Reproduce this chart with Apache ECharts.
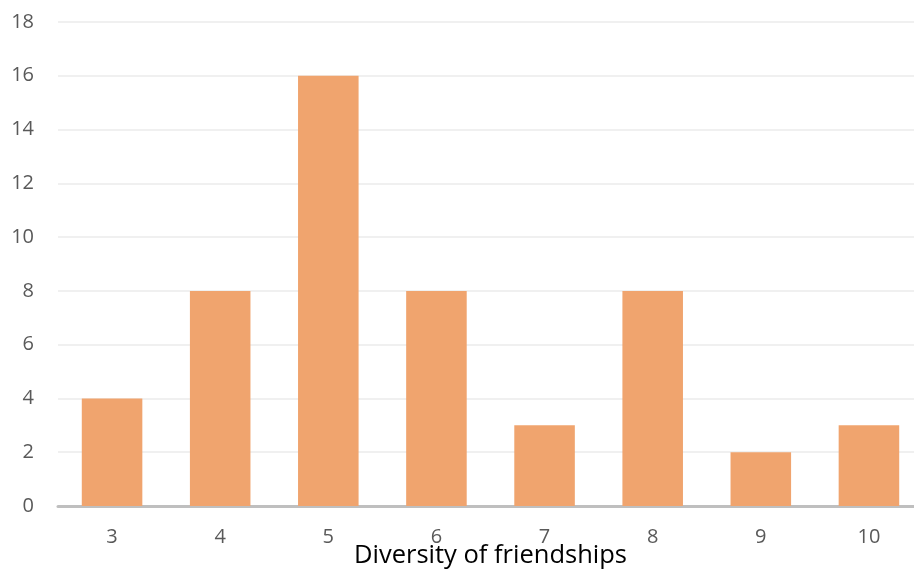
<!DOCTYPE html>
<html><head><meta charset="utf-8">
<script src="https://cdn.jsdelivr.net/npm/echarts@6/dist/echarts.min.js"></script>
<style>html,body{margin:0;padding:0;background:#fff;overflow:hidden}#c{width:914px;height:570px}</style>
</head><body><div id="c"></div>
<script>
const categories = ['3','4','5','6','7','8','9','10'];
const counts = [4, 8, 16, 8, 3, 8, 2, 3];
const xTitle = 'Diversity of friendships';
const chart = echarts.init(document.getElementById('c'));
chart.setOption({
  animation: false,
  grid: {left: 58, right: -9, top: 22, bottom: 64, containLabel: false, outerBoundsMode: 'none'},
  xAxis: {
    type: 'category', data: categories,
    name: xTitle, nameLocation: 'middle', nameGap: 37, nameMoveOverlap: false,
    nameTextStyle: {fontFamily: 'Open Sans', fontSize: 25.5, color: '#000'},
    axisLine: {lineStyle: {color: '#BFBFBF', width: 3}},
    axisTick: {show: false},
    axisLabel: {fontFamily: 'Open Sans', fontSize: 20, color: '#595959', margin: 21}
  },
  yAxis: {
    type: 'value', min: 0, max: 18, interval: 2,
    axisLine: {show: false}, axisTick: {show: false},
    splitLine: {lineStyle: {color: '#EBEBEB', width: 1.5}},
    axisLabel: {fontFamily: 'Open Sans', fontSize: 20, color: '#595959', margin: 24}
  },
  series: [{
    type: 'bar', data: counts, barCategoryGap: '44%',
    itemStyle: {color: '#F0A46E'}
  }]
});
</script></body></html>
